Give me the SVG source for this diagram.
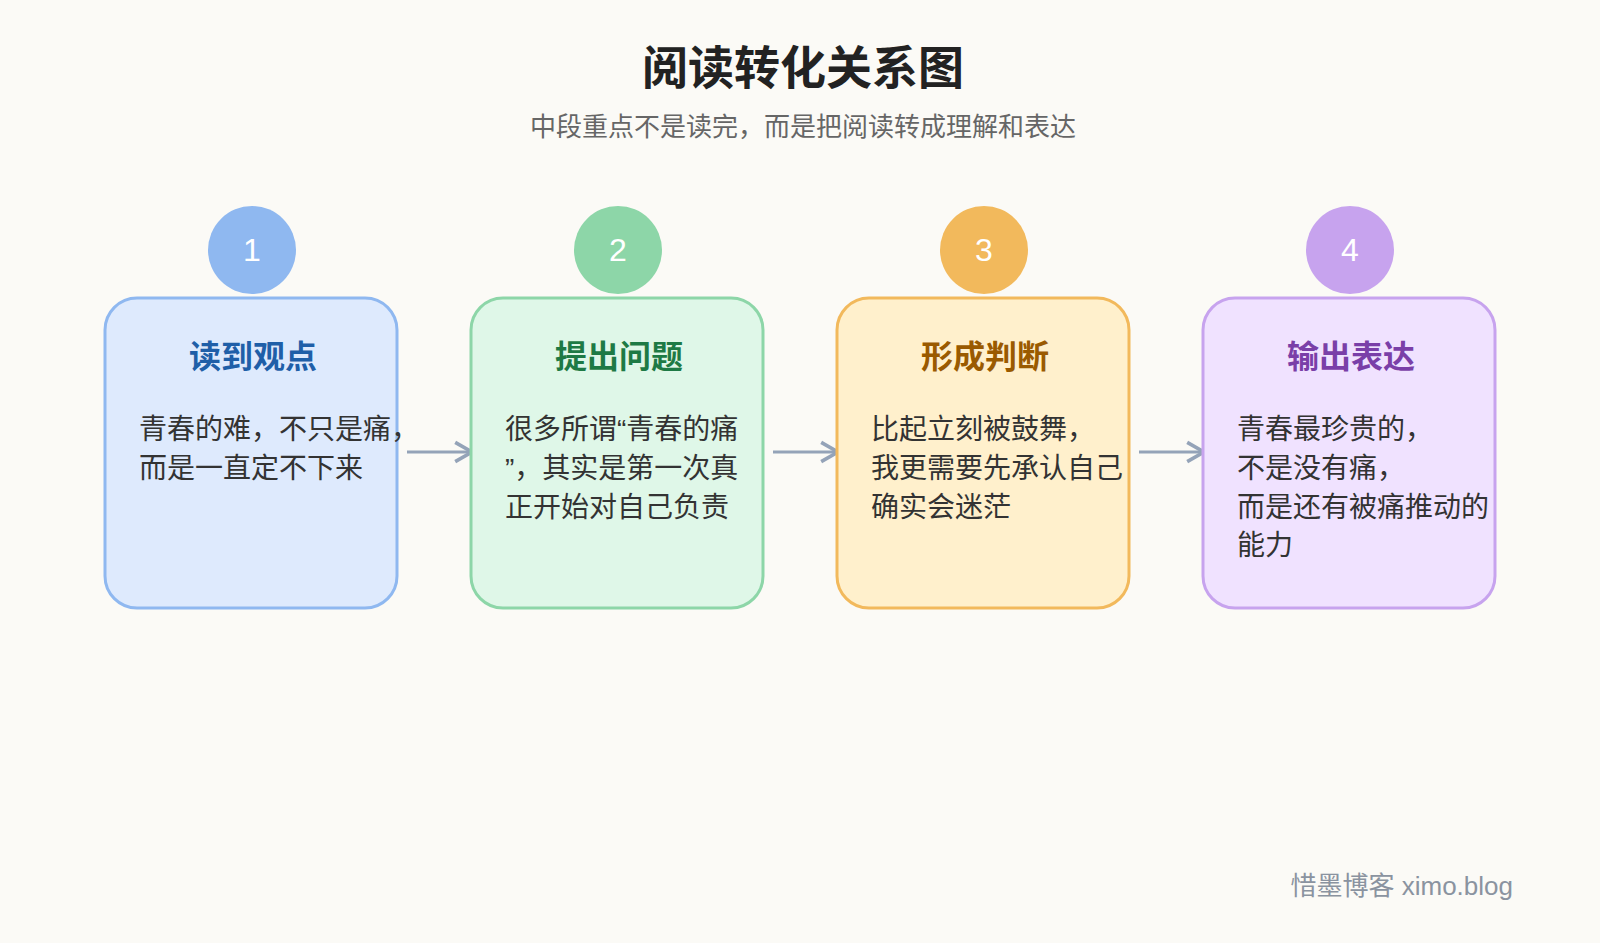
<svg xmlns="http://www.w3.org/2000/svg" width="1600" height="943" viewBox="0 0 1600 943">
<style>
text{font-family:"Liberation Sans","Noto Sans CJK SC",sans-serif}
.t{font-size:28px;fill:#333}
.h{font-size:32px;font-weight:bold;text-anchor:middle}
.n{font-size:32px;fill:#fff;text-anchor:middle}
</style>
<defs><marker id="a" viewBox="0 0 10 10" refX="8" refY="5" markerWidth="8" markerHeight="8" orient="auto"><path d="M1 1L8 5L1 9" fill="none" stroke="#94a3b8" stroke-width="1.5"/></marker></defs>
<rect width="1600" height="943" fill="#fbfaf6"/>
<text x="803" y="84" font-size="46" font-weight="bold" fill="#222" text-anchor="middle">阅读转化关系图</text>
<text x="803" y="136" font-size="26" fill="#666" text-anchor="middle">中段重点不是读完，而是把阅读转成理解和表达</text>
<g id="connectors" stroke="#94a3b8" stroke-width="3" fill="none" marker-end="url(#a)">
<path d="M407 452H472"/><path d="M773 452H838"/><path d="M1139 452H1204"/>
</g>
<g id="node1"><rect x="105" y="298" width="292" height="310" rx="32" fill="#deeafd" stroke="#8fb8f0" stroke-width="3"/><circle cx="252" cy="250" r="44" fill="#8fb8f0"/><text class="n" x="252" y="261">1</text><text class="h" x="253" y="368" fill="#1f5fa8">读到观点</text><text class="t" x="139" y="439">青春的难，不只是痛，</text><text class="t" x="139" y="478">而是一直定不下来</text></g>
<g id="node2"><rect x="471" y="298" width="292" height="310" rx="32" fill="#dff7e8" stroke="#8dd6a8" stroke-width="3"/><circle cx="618" cy="250" r="44" fill="#8dd6a8"/><text class="n" x="618" y="261">2</text><text class="h" x="619" y="368" fill="#1e7a45">提出问题</text><text class="t" x="505" y="439">很多所谓“青春的痛</text><text class="t" x="505" y="478">”，其实是第一次真</text><text class="t" x="505" y="517">正开始对自己负责</text></g>
<g id="node3"><rect x="837" y="298" width="292" height="310" rx="32" fill="#fff0cc" stroke="#f2b95c" stroke-width="3"/><circle cx="984" cy="250" r="44" fill="#f2b95c"/><text class="n" x="984" y="261">3</text><text class="h" x="985" y="368" fill="#9a5a00">形成判断</text><text class="t" x="871" y="439">比起立刻被鼓舞，</text><text class="t" x="871" y="478">我更需要先承认自己</text><text class="t" x="871" y="517">确实会迷茫</text></g>
<g id="node4"><rect x="1203" y="298" width="292" height="310" rx="32" fill="#f0e2ff" stroke="#c7a3ee" stroke-width="3"/><circle cx="1350" cy="250" r="44" fill="#c7a3ee"/><text class="n" x="1350" y="261">4</text><text class="h" x="1351" y="368" fill="#7a3fa8">输出表达</text><text class="t" x="1237" y="439">青春最珍贵的，</text><text class="t" x="1237" y="478">不是没有痛，</text><text class="t" x="1237" y="517">而是还有被痛推动的</text><text class="t" x="1237" y="555">能力</text></g>
<text x="1513" y="895" font-size="26" fill="#8a93a0" text-anchor="end">惜墨博客 ximo.blog</text>
</svg>
